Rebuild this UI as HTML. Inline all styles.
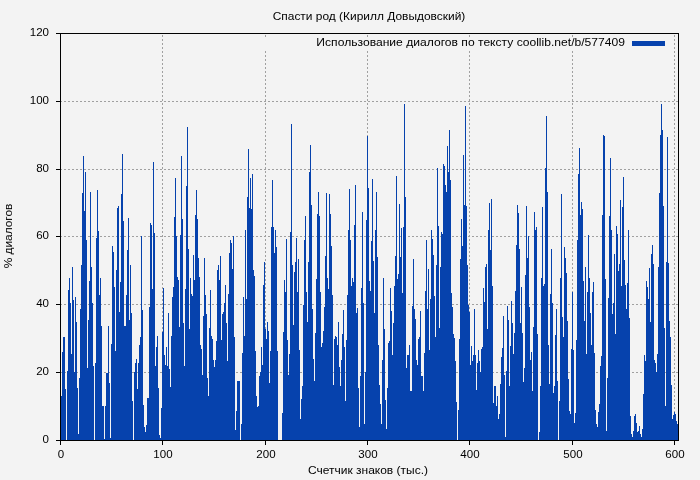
<!DOCTYPE html>
<html><head><meta charset="utf-8"><title>chart</title>
<style>
html,body{margin:0;padding:0;}
body{width:700px;height:480px;background:#f3f3f3;position:relative;overflow:hidden;font-family:"Liberation Sans",sans-serif;font-size:11px;color:#000;}
svg{position:absolute;left:0;top:0;}
.t,.xl,.yl{will-change:transform;}
.t{position:absolute;white-space:nowrap;line-height:14px;height:14px;}
.xl{position:absolute;top:447px;width:40px;text-align:center;line-height:14px;height:14px;transform:scaleX(1.05);}
.yl{position:absolute;left:0;width:49px;text-align:right;line-height:14px;height:14px;transform:scaleX(1.05);transform-origin:100% 50%;}
</style></head><body>
<svg width="700" height="480" viewBox="0 0 700 480">
<g stroke="#a0a0a0" stroke-width="1" stroke-dasharray="2 2" fill="none" shape-rendering="crispEdges"><line x1="162.5" y1="441" x2="162.5" y2="34"/><line x1="265.5" y1="441" x2="265.5" y2="51"/><line x1="265.5" y1="37" x2="265.5" y2="34"/><line x1="367.5" y1="441" x2="367.5" y2="51"/><line x1="367.5" y1="37" x2="367.5" y2="34"/><line x1="469.5" y1="441" x2="469.5" y2="51"/><line x1="469.5" y1="37" x2="469.5" y2="34"/><line x1="572.5" y1="441" x2="572.5" y2="51"/><line x1="572.5" y1="37" x2="572.5" y2="34"/><line x1="674.5" y1="441" x2="674.5" y2="34"/><line x1="60" y1="372.5" x2="678" y2="372.5"/><line x1="60" y1="304.5" x2="678" y2="304.5"/><line x1="60" y1="236.5" x2="678" y2="236.5"/><line x1="60" y1="169.5" x2="678" y2="169.5"/><line x1="60" y1="101.5" x2="678" y2="101.5"/></g>
<path d="M61 440H61V396H62V352H63V337H65V389H66V440H67V371H68V290H69V278H70V303H71V354H72V267H73V300H74V372H75V297H76V322H77V388H78V434H79V378H80V309H81V265H82V193H83V156H84V211H85V172H86V240H87V368H88V320H89V281H90V192H91V267H92V303H93V366H94V440H95V363H96V238H97V190H98V231H99V295H100V278H101V326H102V406H104V439H105V406H106V373H108V326H109V383H110V438H111V344H112V246H113V252H114V287H115V351H116V270H117V208H118V206H119V312H120V282H121V194H122V154H123V221H124V326H126V295H127V250H128V218H129V320H130V265H131V313H132V401H133V440H134V372H135V363H136V359H137V389H138V363H139V345H140V337H141V236H142V310H143V405H144V427H145V432H146V425H147V398H149V307H150V223H151V225H152V289H153V162H154V233H155V366H156V347H157V336H158V388H159V435H160V438H161V408H162V332H163V288H164V355H165V365H166V347H167V366H168V313H169V369H170V387H171V336H172V297H173V287H174V217H175V178H176V236H177V277H178V280H179V327H180V235H181V156H182V219H183V323H184V366H185V289H186V186H187V127H188V249H189V329H190V278H191V294H192V296H193V255H194V280H195V215H196V190H197V219H198V258H199V277H200V345H201V349H202V375H203V316H204V258H205V295H206V314H207V378H208V396H209V328H210V290H211V336H212V339H213V360H214V367H215V360H216V341H217V270H218V265H219V280H220V256H221V340H222V314H223V312H224V303H225V285H226V323H227V361H228V294H229V253H230V240H231V243H232V269H233V236H234V337H235V430H236V411H237V381H240V440H241V424H242V353H243V297H244V336H245V230H246V299H247V197H248V149H249V208H250V178H251V209H252V174H253V270H254V276H255V351H256V396H257V407H258V406H259V376H260V372H261V347H262V365H263V285H264V262H265V329H266V339H267V322H268V331H269V383H270V351H271V227H272V180H273V227H274V253H275V230H276V247H277V351H278V440H282V413H283V332H284V280H285V292H286V239H287V340H288V375H289V354H290V232H291V124H292V265H293V325H294V272H295V262H296V238H297V292H298V259H299V350H300V419H301V399H302V386H303V305H304V240H305V216H306V292H307V322H308V262H309V172H310V145H311V205H312V309H313V359H314V381H315V333H316V279H317V214H318V192H319V216H320V292H321V347H322V343H323V331H324V307H325V256H326V193H327V278H328V289H329V194H330V214H331V246H332V295H333V385H334V339H335V336H336V337H337V345H338V322H339V367H340V386H341V360H342V334H343V310H344V347H345V401H346V340H347V295H348V230H349V189H350V240H351V286H352V278H353V282H354V225H355V185H356V313H357V308H358V388H359V427H360V376H361V288H362V212H363V303H364V424H365V372H366V220H367V136H368V188H369V281H370V291H371V241H372V179H373V261H374V313H375V230H376V192H377V257H378V345H379V385H380V404H381V424H382V360H383V278H384V329H385V400H386V429H387V388H388V343H389V341H390V288H391V311H392V355H393V323H394V286H395V256H396V176H397V279H398V274H399V204H400V257H401V228H402V293H403V227H404V104H405V197H406V368H407V355H409V345H410V391H412V306H413V259H414V309H415V319H416V360H417V365H418V339H419V337H420V311H421V376H423V391H424V353H425V291H426V240H427V309H428V269H429V350H430V299H431V230H432V239H433V255H434V296H435V337H436V265H437V168H438V226H439V328H440V267H441V232H442V234H443V164H444V166H445V185H446V192H447V146H448V172H449V130H450V180H451V293H452V307H453V334H454V338H455V361H456V402H457V440H458V410H459V339H460V259H461V219H462V246H463V155H464V205H465V106H466V206H467V265H468V305H469V312H470V365H471V346H472V361H473V355H474V309H475V355H476V390H477V363H478V350H479V361H480V372H481V349H482V347H483V288H484V302H485V267H486V264H487V329H488V230H489V203H490V250H491V199H492V286H493V403H494V386H496V406H497V396H498V419H499V414H500V384H501V357H502V348H503V316H504V375H505V437H506V371H507V306H508V320H509V386H510V346H511V301H512V323H513V354H514V333H515V291H516V245H517V205H518V213H519V249H520V323H521V287H522V333H523V382H524V368H525V275H526V206H527V258H528V236H529V307H530V360H531V352H532V391H533V327H534V212H535V230H536V227H537V334H538V440H539V432H540V386H541V278H542V207H543V286H544V284H545V168H546V116H547V192H548V345H549V384H550V294H551V249H552V303H553V393H554V386H555V335H556V309H557V381H558V440H559V401H560V278H561V194H562V317H563V337H564V247H565V258H566V273H567V321H568V379H569V411H570V414H571V349H572V292H573V350H574V423H575V413H576V340H577V240H578V174H579V148H580V215H581V202H582V209H583V281H584V321H585V267H586V354H587V292H588V235H589V278H590V313H591V345H592V292H593V282H594V353H595V410H596V424H597V427H598V412H599V404H600V366H601V356H602V215H603V135H604V136H605V279H606V431H607V378H608V298H609V216H610V158H611V230H612V314H613V303H614V254H615V334H616V226H617V234H618V271H619V264H620V200H621V286H622V207H623V177H624V260H625V285H626V309H627V283H628V230H629V318H630V416H631V434H632V437H633V431H634V416H635V414H636V423H637V432H638V431H639V426H640V434H641V437H642V429H643V394H644V355H645V361H646V281H647V287H648V299H649V268H650V322H651V254H652V245H653V264H654V360H655V363H656V372H657V354H658V267H659V193H660V135H661V104H662V130H663V206H664V328H665V406H666V262H667V137H668V263H669V321H670V337H671V385H672V419H673V415H674V412H675V414H676V421H677V424H678V440Z" fill="#0642ad" shape-rendering="crispEdges"/>
<rect x="632" y="41" width="33" height="5" fill="#0642ad"/>
<g stroke="#000" stroke-width="1" fill="none" shape-rendering="crispEdges"><line x1="60.5" y1="441" x2="60.5" y2="445"/><line x1="162.5" y1="441" x2="162.5" y2="445"/><line x1="265.5" y1="441" x2="265.5" y2="445"/><line x1="367.5" y1="441" x2="367.5" y2="445"/><line x1="469.5" y1="441" x2="469.5" y2="445"/><line x1="572.5" y1="441" x2="572.5" y2="445"/><line x1="674.5" y1="441" x2="674.5" y2="445"/><line x1="56" y1="440.5" x2="60" y2="440.5"/><line x1="56" y1="372.5" x2="60" y2="372.5"/><line x1="56" y1="304.5" x2="60" y2="304.5"/><line x1="56" y1="236.5" x2="60" y2="236.5"/><line x1="56" y1="169.5" x2="60" y2="169.5"/><line x1="56" y1="101.5" x2="60" y2="101.5"/><line x1="56" y1="33.5" x2="60" y2="33.5"/>
<rect x="60.5" y="33.5" width="618" height="407"/></g>
</svg>
<div class="t" style="left:169px;width:400px;text-align:center;top:9px;transform:scaleX(1.085);">Спасти род (Кирилл Довыдовский)</div>
<div class="t" style="left:225px;width:400px;text-align:right;top:35px;transform:scaleX(1.10);transform-origin:100% 50%;">Использование диалогов по тексту coollib.net/b/577409</div>
<div class="t" style="left:168.2px;width:400px;text-align:center;top:463px;transform:scaleX(1.09);">Счетчик знаков (тыс.)</div>
<div class="t" style="left:-92.5px;top:229px;width:200px;text-align:center;transform:rotate(-90deg) scaleX(1.08);">% диалогов</div>
<div class="xl" style="left:41px">0</div><div class="xl" style="left:143px">100</div><div class="xl" style="left:246px">200</div><div class="xl" style="left:348px">300</div><div class="xl" style="left:450px">400</div><div class="xl" style="left:553px">500</div><div class="xl" style="left:655px">600</div><div class="yl" style="top:432px">0</div><div class="yl" style="top:364px">20</div><div class="yl" style="top:296px">40</div><div class="yl" style="top:228px">60</div><div class="yl" style="top:161px">80</div><div class="yl" style="top:93px">100</div><div class="yl" style="top:25px">120</div>
</body></html>
